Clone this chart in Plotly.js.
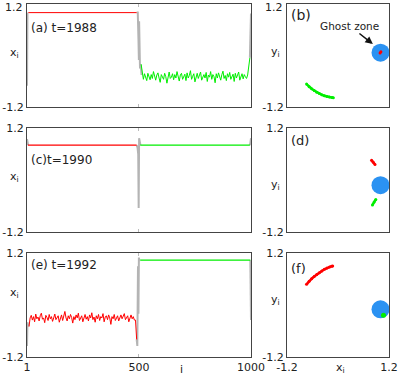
<!DOCTYPE html>
<html>
<head>
<meta charset="utf-8">
<script src="https://cdn.plot.ly/plotly-3.0.1.min.js"></script>
<style>
  body { margin: 0; background: #fff; }
  #chart { width: 399px; height: 376px; }
</style>
</head>
<body>
<div id="chart"></div>
<script>
// ---- panel (a), t=1988 ----
let redA_i = [7, 490];
let redA = [1.0, 1.0];
// green sampled every 5 sites starting at 510
let greenA = [
  -0.20,-0.45,-0.55,-0.42,-0.52,-0.58,-0.41,-0.50,-0.56,-0.44,
  -0.53,-0.37,-0.49,-0.57,-0.45,-0.40,-0.52,-0.62,-0.44,-0.50,
  -0.55,-0.41,-0.49,-0.64,-0.46,-0.38,-0.53,-0.50,-0.42,-0.56,
  -0.44,-0.52,-0.37,-0.49,-0.59,-0.45,-0.41,-0.55,-0.50,-0.43,
  -0.58,-0.40,-0.52,-0.46,-0.35,-0.55,-0.48,-0.42,-0.61,-0.50,
  -0.41,-0.53,-0.46,-0.38,-0.57,-0.48,-0.44,-0.52,-0.39,-0.60,
  -0.45,-0.50,-0.37,-0.55,-0.44,-0.49,-0.63,-0.42,-0.52,-0.40,
  -0.50,-0.57,-0.44,-0.36,-0.53,-0.46,-0.58,-0.42,-0.50,-0.39,
  -0.55,-0.48,-0.43,-0.60,-0.41,-0.52,-0.46,-0.38,-0.57,-0.50,
  -0.42,-0.54,-0.44,-0.49,-0.53,-0.45,-0.30,-0.05
];
let greenA_start = 510;
let grayA_i = [1, 3, null, 490, 495, 498, 500, 501, 503, 505, 508, 512, null, 995, 997, 999, 1000];
let grayA = [-0.7, 1.0, null, 1.0, 1.0, 0.4, -0.1, 0.8, 0.2, -0.3, -0.2, -0.45, null, -0.05, 0.4, 0.98, 0.98];

// ---- panel (c), t=1990 ----
let redC_i = [5, 490];
let redC = [0.81, 0.81];
let greenC_i = [506, 995];
let greenC = [0.81, 0.81];
let grayC_i = [1, 3, 6, null, 490, 494, 497, 499, 501, 503, 507, null, 994, 997, 1000];
let grayC = [0.95, 0.85, 0.81, null, 0.81, 0.75, 0.6, -0.65, 0.97, 0.85, 0.81, null, 0.81, 0.85, 0.97];

// ---- panel (e), t=1992 ----
// red sampled every 5 sites starting at 10
let redE = [
  -0.50,-0.30,-0.24,-0.35,-0.27,-0.39,-0.21,-0.32,-0.28,-0.37,
  -0.25,-0.19,-0.33,-0.30,-0.41,-0.24,-0.29,-0.36,-0.22,-0.32,
  -0.27,-0.38,-0.30,-0.21,-0.34,-0.28,-0.25,-0.40,-0.32,-0.23,
  -0.36,-0.27,-0.15,-0.30,-0.37,-0.25,-0.32,-0.22,-0.29,-0.42,
  -0.27,-0.34,-0.23,-0.30,-0.19,-0.36,-0.28,-0.25,-0.39,-0.30,
  -0.22,-0.33,-0.27,-0.37,-0.23,-0.30,-0.18,-0.34,-0.28,-0.40,
  -0.25,-0.32,-0.22,-0.36,-0.27,-0.30,-0.20,-0.39,-0.28,-0.25,
  -0.34,-0.23,-0.30,-0.45,-0.27,-0.32,-0.22,-0.36,-0.28,-0.25,
  -0.37,-0.30,-0.23,-0.32,-0.27,-0.20,-0.34,-0.28,-0.25,-0.39,
  -0.30,-0.23,-0.32,-0.27,-0.35,-0.35,-0.80
];
let redE_start = 10;
let greenE_i = [506, 997];
let greenE = [1.04, 1.04];
let grayE_i = [1, 3, 8, null, 490, 493, 496, 498, 500, 502, 506, null, 997, 999, 1000];
let grayE = [-0.95, -0.4, -0.5, null, -0.8, -0.95, 0.9, -0.2, 1.1, 1.04, 1.04, null, 1.04, -0.35, -0.35];

// ---- phase space panels (x_i, y_i) ----
let ghostB = [[1.0], [0.07]];
let ghostD = [[1.0], [-0.12]];
let ghostF = [[1.0], [-0.10]];

let redB_x = [0.99, 1.01];
let redB_y = [0.06, 0.09];
let greenB_x = [-0.74, -0.68, -0.62, -0.56, -0.50, -0.44, -0.38, -0.32, -0.26, -0.20, -0.14, -0.11];
let greenB_y = [-0.66, -0.72, -0.77, -0.81, -0.85, -0.88, -0.91, -0.93, -0.95, -0.96, -0.97, -0.98];

let redD_x = [0.79, 0.83, 0.87];
let redD_y = [0.46, 0.41, 0.36];
let greenD_x = [0.81, 0.85, 0.89];
let greenD_y = [-0.58, -0.51, -0.45];

let redF_x = [-0.74, -0.68, -0.62, -0.56, -0.50, -0.44, -0.38, -0.32, -0.26, -0.20, -0.15, -0.125];
let redF_y = [0.48, 0.55, 0.61, 0.66, 0.71, 0.75, 0.79, 0.83, 0.86, 0.88, 0.90, 0.905];
let greenF_x = [1.07];
let greenF_y = [-0.24];

const RED = '#ff0000';
const GREEN = '#00ee00';
const GRAY = '#b4b4b4';
const BLUE = '#2b92f2';

function seq(start, n, step) {
    let out = [];
    for (let k = 0; k < n; k++) out.push(start + k * step);
    return out;
}

function line(xa, ya, x, y, color, w) {
    return {type: 'scatter', mode: 'lines', xaxis: xa, yaxis: ya, x: x, y: y,
            line: {color: color, width: w}, connectgaps: false, hoverinfo: 'skip'};
}
function dots(xa, ya, x, y, color, size) {
    return {type: 'scatter', mode: 'markers', xaxis: xa, yaxis: ya, x: x, y: y,
            marker: {color: color, size: size, line: {width: 0}}, hoverinfo: 'skip'};
}
function arc(xa, ya, x, y, color) {
    return {type: 'scatter', mode: 'lines+markers', xaxis: xa, yaxis: ya, x: x, y: y,
            line: {color: color, width: 2.5}, marker: {color: color, size: 3}, hoverinfo: 'skip'};
}

let data = [
    line('x', 'y', grayA_i, grayA, GRAY, 2),
    line('x', 'y', redA_i, redA, RED, 1),
    line('x', 'y', seq(greenA_start, greenA.length, 5), greenA, GREEN, 1),

    dots('x2', 'y2', ghostB[0], ghostB[1], BLUE, 18),
    dots('x2', 'y2', redB_x, redB_y, RED, 3),
    arc('x2', 'y2', greenB_x, greenB_y, GREEN),

    line('x3', 'y3', grayC_i, grayC, GRAY, 2),
    line('x3', 'y3', redC_i, redC, RED, 1.2),
    line('x3', 'y3', greenC_i, greenC, GREEN, 1.2),

    dots('x4', 'y4', ghostD[0], ghostD[1], BLUE, 18),
    arc('x4', 'y4', redD_x, redD_y, RED),
    arc('x4', 'y4', greenD_x, greenD_y, GREEN),

    line('x5', 'y5', grayE_i, grayE, GRAY, 2),
    line('x5', 'y5', seq(redE_start, redE.length, 5), redE, RED, 1),
    line('x5', 'y5', greenE_i, greenE, GREEN, 1.2),

    dots('x6', 'y6', ghostF[0], ghostF[1], BLUE, 18),
    arc('x6', 'y6', redF_x, redF_y, RED),
    dots('x6', 'y6', greenF_x, greenF_y, GREEN, 5)
];

const FONT = {family: 'DejaVu Sans, sans-serif', size: 11, color: '#222'};
const xL = [27 / 399, 251 / 399];
const xR = [287 / 399, 389 / 399];
const yA = [1 - 107.3 / 376, 1 - 4 / 376];
const yC = [1 - 231.7 / 376, 1 - 128.3 / 376];
const yE = [1 - 356.7 / 376, 1 - 253.3 / 376];

function siteAxis(dom, anchor, labels) {
    return {domain: dom, anchor: anchor, range: [1, 1000],
            tickvals: [1, 500, 1000], ticktext: ['1', '500', '1000'],
            showticklabels: labels, ticks: 'inside', ticklen: 3, tickcolor: '#bbb',
            ticklabeloverflow: 'allow',
            showgrid: false, zeroline: false, showline: true, mirror: 'ticks',
            linecolor: '#444', linewidth: 1, tickfont: FONT};
}
// topRow: the upper "1.2" is written as an annotation so it is not clipped by the page edge
function valAxis(dom, anchor, labels, topRow) {
    return {domain: dom, anchor: anchor, range: [-1.2, 1.2],
            tickvals: [-1.2, 1.2], ticktext: ['-1.2', topRow ? '' : '1.2'],
            showticklabels: labels, ticks: 'inside', ticklen: 3, tickcolor: '#bbb',
            ticklabeloverflow: 'allow',
            showgrid: false, zeroline: false, showline: true, mirror: 'ticks',
            linecolor: '#444', linewidth: 1, tickfont: FONT};
}

function label(text, px, py, size, anchor) {
    return {xref: 'paper', yref: 'paper', x: px / 399, y: 1 - py / 376, text: text,
            showarrow: false, xanchor: anchor || 'left', yanchor: 'middle',
            font: {family: FONT.family, size: size, color: '#222'}};
}
function topTick(px) {
    return {xref: 'paper', yref: 'paper', x: px / 399, y: 1, text: '1.2',
            showarrow: false, xanchor: 'right', yanchor: 'top',
            borderpad: 0, font: FONT};
}

let annotations = [
    topTick(24),
    topTick(284),
    label('(a) t=1988', 29, 28, 12),
    label('(b)', 289, 15, 14),
    label('(c)t=1990', 29, 160, 12),
    label('(d)', 289, 140, 13),
    label('(e) t=1992', 29, 265, 12),
    label('(f)', 289, 268, 13),
    label('x<sub>i</sub>', 14, 53, 11, 'center'),
    label('x<sub>i</sub>', 14, 177, 11, 'center'),
    label('x<sub>i</sub>', 14, 293, 11, 'center'),
    label('y<sub>i</sub>', 275, 52, 11, 'center'),
    label('y<sub>i</sub>', 275, 185, 11, 'center'),
    label('y<sub>i</sub>', 275, 300, 11, 'center'),
    label('i', 181, 369, 11, 'center'),
    label('x<sub>i</sub>', 340, 368, 11, 'center'),
    {xref: 'x2', yref: 'y2', x: 0.82, y: 0.27, ax: -23, ay: -18, text: 'Ghost zone',
     showarrow: true, arrowhead: 2, arrowsize: 1, arrowwidth: 1.5, arrowcolor: '#111',
     font: {family: FONT.family, size: 10.5, color: '#222'}}
];

let layout = {
    width: 399, height: 376,
    margin: {l: 0, r: 0, t: 0, b: 0},
    paper_bgcolor: '#fff', plot_bgcolor: '#fff',
    showlegend: false,
    font: FONT,
    xaxis: siteAxis(xL, 'y', false),
    yaxis: valAxis(yA, 'x', true, true),
    xaxis2: valAxis(xR, 'y2', false),
    yaxis2: valAxis(yA, 'x2', true, true),
    xaxis3: siteAxis(xL, 'y3', false),
    yaxis3: valAxis(yC, 'x3', true),
    xaxis4: valAxis(xR, 'y4', false),
    yaxis4: valAxis(yC, 'x4', true),
    xaxis5: siteAxis(xL, 'y5', true),
    yaxis5: valAxis(yE, 'x5', true),
    xaxis6: valAxis(xR, 'y6', true),
    yaxis6: valAxis(yE, 'x6', true),
    annotations: annotations
};

Plotly.newPlot('chart', data, layout, {displayModeBar: false, staticPlot: true});
</script>
</body>
</html>
